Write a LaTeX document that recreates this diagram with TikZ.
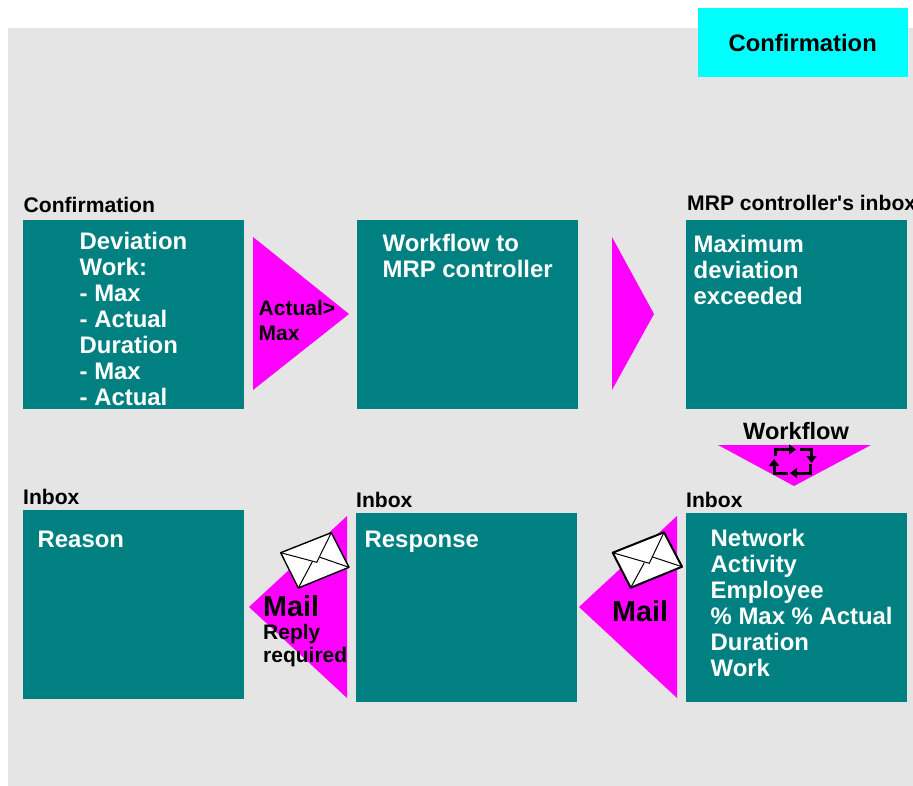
\documentclass[tikz,border=0pt]{standalone}
\usepackage{fontspec}
\setmainfont{Liberation Sans}
\usetikzlibrary{arrows.meta}
\definecolor{teal1}{HTML}{008080}
\definecolor{mag1}{HTML}{FF00FF}
\definecolor{cyan1}{HTML}{00FFFF}
\definecolor{gray1}{HTML}{E5E5E5}
\newcommand\stacked[1]{\begin{tabular}[t]{@{}l@{}}#1\end{tabular}}
\tikzset{
  x=1pt,y=-1pt,
  tealbox/.style={fill=teal1},
  pointer/.style={fill=mag1},
  txt/.style={inner sep=0pt,anchor=base west,font=\bfseries\fontsize{#1}{26}\selectfont},
  bodytxt/.style={txt=23.9,text=white},
  headtxt/.style={txt=21.1,text=black},
  darktxt/.style={txt=21,text=black},
  mailtxt/.style={txt=28.8,text=black},
  envelope/.style={fill=white,draw=black,line join=round},
  flap/.style={draw=black,line width=1pt},
  cyc/.style={draw=black,line width=3pt,-{Triangle[length=7pt,width=10pt]}}
}
\begin{document}
\begin{tikzpicture}
\useasboundingbox (0,0) rectangle (913,786);
\fill[gray1] (8,28) rectangle (913,786);
\fill[cyan1] (698,8) rectangle (908,77);
\node[txt=23.8] (title) at (728.5,52) {Confirmation};
% boxes
\fill[tealbox] (23,220) rectangle (244,409);
\fill[tealbox] (357,220) rectangle (578,409);
\fill[tealbox] (686,220) rectangle (907,409);
\fill[tealbox] (23,510) rectangle (244,699);
\fill[tealbox] (356,513) rectangle (577,702);
\fill[tealbox] (686,513) rectangle (907,702);
% pointers
\fill[pointer] (253,237) -- (349,314) -- (253,390) -- cycle;
\fill[pointer] (612,237) -- (654,314) -- (612,390) -- cycle;
\fill[pointer] (718,445) -- (871,445) -- (794,486) -- cycle;
\fill[pointer] (677,516) -- (677,698) -- (579,607) -- cycle;
\fill[pointer] (347,516) -- (347,698) -- (249,607) -- cycle;
% headings
\node[headtxt] (h1) at (23.5,213) {Confirmation};
\node[headtxt] (h2) at (687,211) {MRP controller\XeTeXglyph\XeTeXcharglyph"27 s inbox};
\node[headtxt] (h3) at (23,504) {Inbox};
\node[headtxt] (h4) at (356,507) {Inbox};
\node[headtxt] (h5) at (686,507) {Inbox};
% box texts
\node[bodytxt] (t1) at (79.5,250) {\stacked{Deviation\\Work:\\- Max\\- Actual\\Duration\\- Max\\- Actual}};
\node[bodytxt] (t2) at (382.5,252) {\stacked{Workflow to\\MRP controller}};
\node[bodytxt] (t3) at (693.5,253) {\stacked{Maximum\\deviation\\exceeded}};
\node[bodytxt] (t4) at (37.5,547) {Reason};
\node[bodytxt] (t5) at (364.5,547) {Response};
\node[bodytxt] (t6) at (710.5,546) {\stacked{Network\\Activity\\Employee\\\% Max \% Actual\\Duration\\Work}};
% pointer texts
\node[darktxt] (a1) at (258.5,316) {Actual>};
\node[darktxt] (a2) at (258.5,341) {Max};
\node[txt=23.6] (wf) at (743,439) {Workflow};
% cycle icon
\draw[cyc] (775,456) -- (775,449.5) -- (796,449.5);
\draw[cyc] (800,449.5) -- (811.5,449.5) -- (811.5,463);
\draw[cyc] (810,464) -- (810,473) -- (790,473);
\draw[cyc] (788,473) -- (774,473) -- (774,459);
% envelope right
\filldraw[envelope,line width=2pt] (612.7,552.7) -- (664,532.3) -- (682,566.7) -- (630.7,587.7) -- cycle;
\draw[flap] (612.7,552.7) -- (649.3,563.3) -- (664,532.3);
\draw[flap] (630.7,587.7) -- (644.3,562.7);
\draw[flap] (682,566.7) -- (651.7,556.7);
% envelope left
\filldraw[envelope,line width=1.4pt] (280.7,552.7) -- (331.3,532.7) -- (349,567.3) -- (298.3,588) -- cycle;
\draw[flap] (280.7,552.7) -- (316.7,562.3) -- (331.3,532.7);
\draw[flap] (298.3,588) -- (312.7,561);
\draw[flap] (349,567.3) -- (320,557.3);
% mail labels
\node[mailtxt] (m1) at (612,621) {Mail};
\node[mailtxt] (m2) at (263,616) {Mail};
\node[darktxt] (r1) at (263,639) {Reply};
\node[darktxt] (r2) at (263,662) {required};
\end{tikzpicture}
\end{document}
